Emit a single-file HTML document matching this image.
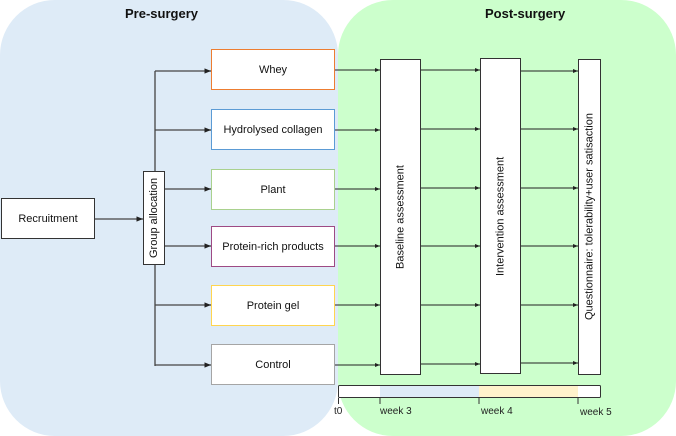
<!DOCTYPE html>
<html><head><style>
body{margin:0;width:676px;height:436px;overflow:hidden;background:#fff;font-family:"Liberation Sans",sans-serif;}
.p{position:absolute;}
.b{position:absolute;background:#fff;box-sizing:border-box;display:flex;align-items:center;justify-content:center;font-size:11px;color:#111;}
.v{writing-mode:vertical-rl;transform:rotate(180deg);}
.t{position:absolute;font-size:13px;font-weight:bold;color:#111;}
.l{position:absolute;font-size:10px;color:#222;}
.c{border-width:1.5px !important;}
</style></head><body>
<div class="p" style="left:0;top:0;width:338px;height:436px;background:#DEEBF7;border-radius:55px;"></div>
<div class="p" style="left:338px;top:0;width:338px;height:436px;background:#CCFFCC;border-radius:55px;"></div>
<div class="t" style="left:125px;top:6px;">Pre-surgery</div>
<div class="t" style="left:485px;top:6px;">Post-surgery</div>
<svg class="p" style="left:0;top:0" width="676" height="436">
<defs><marker id="a" markerWidth="5" markerHeight="5" refX="5" refY="2.5" orient="auto"><path d="M0,0.5L5,2.5L0,4.5z" fill="#222"/></marker></defs>
<g stroke="#444" stroke-width="1.3" fill="none">
<line x1="95" y1="219" x2="143" y2="219" marker-end="url(#a)"/>
<line x1="155" y1="71" x2="155" y2="171"/>
<line x1="155" y1="265" x2="155" y2="366"/>
<line x1="155" y1="71" x2="211" y2="71" marker-end="url(#a)"/>
<line x1="155" y1="130" x2="211" y2="130" marker-end="url(#a)"/>
<line x1="165" y1="189" x2="211" y2="189" marker-end="url(#a)"/>
<line x1="165" y1="246" x2="211" y2="246" marker-end="url(#a)"/>
<line x1="155" y1="305" x2="211" y2="305" marker-end="url(#a)"/>
<line x1="155" y1="365" x2="211" y2="365" marker-end="url(#a)"/>
</g>
<g stroke="#222" stroke-width="1" fill="none">
<line x1="335" y1="70" x2="380" y2="70" marker-end="url(#a)"/>
<line x1="335" y1="130" x2="380" y2="130" marker-end="url(#a)"/>
<line x1="335" y1="189" x2="380" y2="189" marker-end="url(#a)"/>
<line x1="335" y1="246" x2="380" y2="246" marker-end="url(#a)"/>
<line x1="335" y1="305" x2="380" y2="305" marker-end="url(#a)"/>
<line x1="335" y1="365" x2="380" y2="365" marker-end="url(#a)"/>
<line x1="421" y1="70" x2="480" y2="70" marker-end="url(#a)"/>
<line x1="421" y1="129" x2="480" y2="129" marker-end="url(#a)"/>
<line x1="421" y1="188" x2="480" y2="188" marker-end="url(#a)"/>
<line x1="421" y1="246" x2="480" y2="246" marker-end="url(#a)"/>
<line x1="421" y1="305" x2="480" y2="305" marker-end="url(#a)"/>
<line x1="421" y1="364" x2="480" y2="364" marker-end="url(#a)"/>
<line x1="520" y1="71" x2="578" y2="71" marker-end="url(#a)"/>
<line x1="520" y1="129" x2="578" y2="129" marker-end="url(#a)"/>
<line x1="520" y1="188" x2="578" y2="188" marker-end="url(#a)"/>
<line x1="520" y1="246" x2="578" y2="246" marker-end="url(#a)"/>
<line x1="520" y1="305" x2="578" y2="305" marker-end="url(#a)"/>
<line x1="520" y1="363" x2="578" y2="363" marker-end="url(#a)"/>
</g>
<rect x="338.5" y="385.5" width="262" height="12" fill="#fff" stroke="#333" rx="1"/>
<rect x="380" y="386" width="99" height="11" fill="#DEEBF7"/>
<rect x="479" y="386" width="99" height="11" fill="#FFF2CC"/>
<g stroke="#333"><line x1="338.5" y1="398" x2="338.5" y2="404"/><line x1="380" y1="398" x2="380" y2="404"/><line x1="479" y1="398" x2="479" y2="404"/><line x1="578" y1="398" x2="578" y2="404"/></g>
</svg>
<div class="l" style="left:334px;top:406px;">t0</div>
<div class="l" style="left:380px;top:406px;">week 3</div>
<div class="l" style="left:481px;top:406px;">week 4</div>
<div class="l" style="left:580px;top:407px;">week 5</div>
<div class="b" style="left:1px;top:198px;width:94px;height:41px;border:1px solid #333;">Recruitment</div>
<div class="b v" style="left:143px;top:171px;width:22px;height:94px;border:1px solid #333;">Group allocation</div>
<div class="b c" style="left:211px;top:49px;width:124px;height:41px;border:1px solid #ED7D31;">Whey</div>
<div class="b c" style="left:211px;top:109px;width:124px;height:41px;border:1px solid #5B9BD5;">Hydrolysed collagen</div>
<div class="b c" style="left:211px;top:169px;width:124px;height:41px;border:1px solid #A9D18E;">Plant</div>
<div class="b c" style="left:211px;top:226px;width:124px;height:41px;border:1px solid #9E4A84;">Protein-rich products</div>
<div class="b c" style="left:211px;top:285px;width:124px;height:41px;border:1px solid #FFD54F;">Protein gel</div>
<div class="b c" style="left:211px;top:344px;width:124px;height:41px;border:1px solid #A5A5A5;">Control</div>
<div class="b v" style="left:380px;top:59px;width:41px;height:316px;border:1px solid #333;">Baseline assessment</div>
<div class="b v" style="left:480px;top:58px;width:41px;height:316px;border:1px solid #333;">Intervention assessment</div>
<div class="b v" style="left:578px;top:59px;width:23px;height:316px;border:1px solid #333;">Questionnaire: tolerability+user satisaction</div>
</body></html>
